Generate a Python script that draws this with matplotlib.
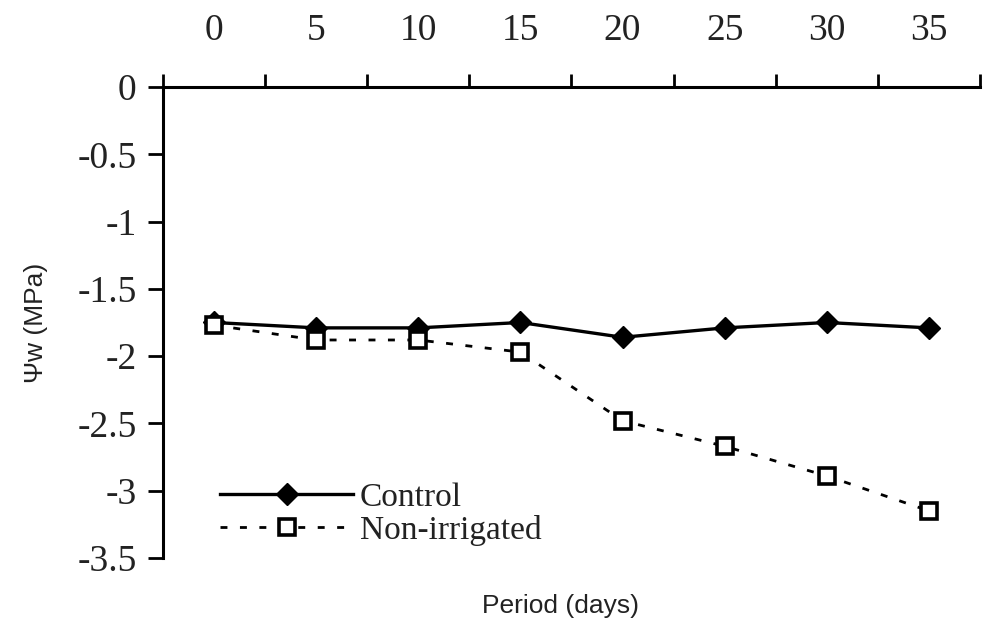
import matplotlib
matplotlib.use("Agg")
import matplotlib.pyplot as plt
from matplotlib.ticker import FixedLocator, NullFormatter

# data
days = [0, 5, 10, 15, 20, 25, 30, 35]
control = [-1.75, -1.79, -1.79, -1.75, -1.86, -1.79, -1.75, -1.79]
non_irrigated = [-1.77, -1.88, -1.88, -1.97, -2.48, -2.67, -2.89, -3.15]
yticks = [0, -0.5, -1, -1.5, -2, -2.5, -3, -3.5]
ytick_labels = ["0", "-0.5", "-1", "-1.5", "-2", "-2.5", "-3", "-3.5"]

serif = "Liberation Serif"
sans = "Liberation Sans"
txt = "#222222"

fig = plt.figure(figsize=(9.87, 6.2), dpi=100)
ax = fig.add_axes([0.1651, 0.1, 0.8278, 0.7597])

x = list(range(len(days)))
ax.plot(x, control, color="black", lw=2.4, marker="D", ms=11.5,
        mfc="black", mec="black", label="Control")
ax.plot(x, non_irrigated, color="black", lw=2, dashes=(2.5, 4.5),
        marker="s", ms=11, mfc="white", mec="black", mew=2.6,
        label="Non-irrigated")

ax.set_xlim(-0.5, len(days) - 0.5)
ax.set_ylim(-3.5, 0)

# category style x axis on top: ticks at boundaries, labels in the middle
ax.xaxis.tick_top()
ax.xaxis.set_major_locator(FixedLocator([i - 0.5 for i in range(len(days) + 1)]))
ax.xaxis.set_major_formatter(NullFormatter())
ax.xaxis.set_minor_locator(FixedLocator(x))
ax.set_xticklabels([str(d) for d in days], minor=True)
ax.tick_params(axis="x", which="major", direction="out", length=9.5, width=2)
ax.tick_params(axis="x", which="minor", length=0, pad=28, labelsize=27,
               labelcolor=txt)
for t in ax.get_xticklabels(minor=True):
    t.set_fontfamily(serif)

ax.set_yticks(yticks)
ax.set_yticklabels(ytick_labels, fontfamily=serif, fontsize=27)
ax.tick_params(axis="y", direction="out", length=11, width=2, pad=8,
               labelcolor=txt)

for s in ["right", "bottom"]:
    ax.spines[s].set_visible(False)
for s in ["left", "top"]:
    ax.spines[s].set_linewidth(2.2)

fig.text(0.036, 0.48, "Ψw (MPa)", rotation=90, ha="center", va="center",
         fontfamily=sans, fontsize=19, color=txt)
fig.text(0.568, 0.022, "Period (days)", ha="center", va="center",
         fontfamily=sans, fontsize=19, color=txt)

leg = ax.legend(loc="upper left", bbox_to_anchor=(0.223, 0.222),
                bbox_transform=fig.transFigure, frameon=False, borderpad=0,
                borderaxespad=0, handlelength=4, handletextpad=0.2,
                labelspacing=0.05, numpoints=1,
                prop={"family": serif, "size": 24})
for t in leg.get_texts():
    t.set_color(txt)

fig.savefig("out.png", dpi=100)
